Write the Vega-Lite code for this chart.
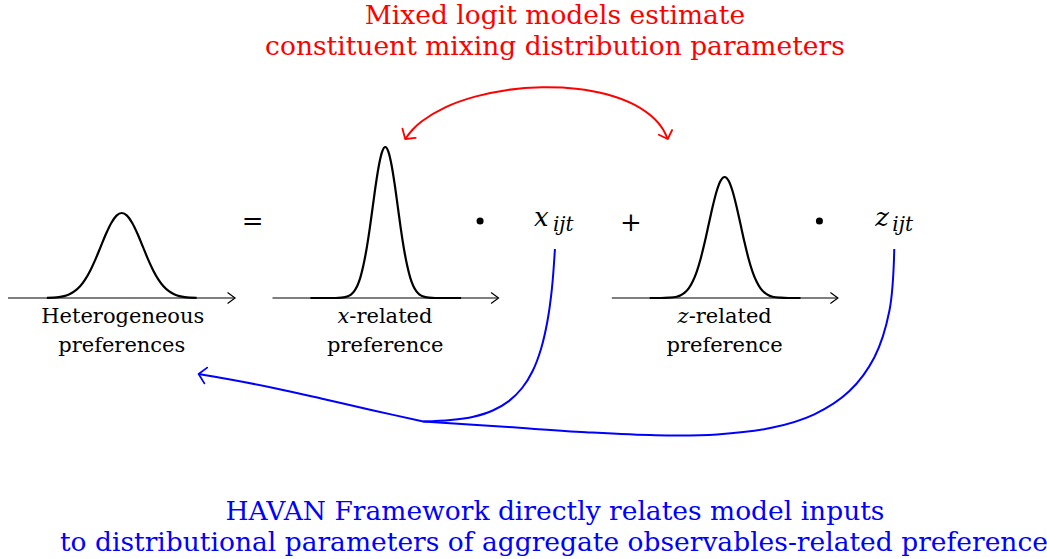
{
"$schema": "https://vega.github.io/schema/vega-lite/v6.json",
"width": 1047, "height": 559,
"autosize": {"type": "fit", "contains": "padding"},
"padding": 0,
"background": "white",
"config": {"view": {"stroke": null}},
"datasets": {
"lines": [
{"k":"axis","id":"a1","i":0,"x":8,"y":298},{"k":"axis","id":"a1","i":1,"x":235,"y":298},
{"k":"axis","id":"a2","i":0,"x":273,"y":298},{"k":"axis","id":"a2","i":1,"x":499,"y":298},
{"k":"axis","id":"a3","i":0,"x":613,"y":298},{"k":"axis","id":"a3","i":1,"x":839,"y":298},
{"k":"axis","id":"h1","i":0,"x":228,"y":292.5},{"k":"axis","id":"h1","i":1,"x":235.5,"y":298},{"k":"axis","id":"h1","i":2,"x":228,"y":303.5},
{"k":"axis","id":"h2","i":0,"x":492,"y":292.5},{"k":"axis","id":"h2","i":1,"x":499.5,"y":298},{"k":"axis","id":"h2","i":2,"x":492,"y":303.5},
{"k":"axis","id":"h3","i":0,"x":832,"y":292.5},{"k":"axis","id":"h3","i":1,"x":839.5,"y":298},{"k":"axis","id":"h3","i":2,"x":832,"y":303.5},
{"k":"gauss","id":"g1","i":0,"x":47,"y":297.85},{"k":"gauss","id":"g1","i":1,"x":59,"y":297.1},{"k":"gauss","id":"g1","i":2,"x":64.25,"y":296.1},{"k":"gauss","id":"g1","i":3,"x":69.5,"y":294.3},{"k":"gauss","id":"g1","i":4,"x":74.75,"y":291.2},{"k":"gauss","id":"g1","i":5,"x":80,"y":286.5},{"k":"gauss","id":"g1","i":6,"x":85.25,"y":279.6},{"k":"gauss","id":"g1","i":7,"x":90.5,"y":270.4},{"k":"gauss","id":"g1","i":8,"x":95.75,"y":259.1},{"k":"gauss","id":"g1","i":9,"x":101,"y":246.4},{"k":"gauss","id":"g1","i":10,"x":106.25,"y":233.8},{"k":"gauss","id":"g1","i":11,"x":111.5,"y":223.0},{"k":"gauss","id":"g1","i":12,"x":116.75,"y":215.6},{"k":"gauss","id":"g1","i":13,"x":122,"y":213},{"k":"gauss","id":"g1","i":14,"x":127.25,"y":215.6},{"k":"gauss","id":"g1","i":15,"x":132.5,"y":223.0},{"k":"gauss","id":"g1","i":16,"x":137.75,"y":233.8},{"k":"gauss","id":"g1","i":17,"x":143,"y":246.4},{"k":"gauss","id":"g1","i":18,"x":148.25,"y":259.1},{"k":"gauss","id":"g1","i":19,"x":153.5,"y":270.4},{"k":"gauss","id":"g1","i":20,"x":158.75,"y":279.6},{"k":"gauss","id":"g1","i":21,"x":164,"y":286.5},{"k":"gauss","id":"g1","i":22,"x":169.25,"y":291.2},{"k":"gauss","id":"g1","i":23,"x":174.5,"y":294.3},{"k":"gauss","id":"g1","i":24,"x":179.75,"y":296.1},{"k":"gauss","id":"g1","i":25,"x":185,"y":297.1},{"k":"gauss","id":"g1","i":26,"x":197,"y":297.85},
{"k":"gauss","id":"g2","i":0,"x":311,"y":298},{"k":"gauss","id":"g2","i":1,"x":336,"y":298},{"k":"gauss","id":"g2","i":2,"x":342.25,"y":297.7},{"k":"gauss","id":"g2","i":3,"x":348.5,"y":296.3},{"k":"gauss","id":"g2","i":4,"x":351.6,"y":294.6},{"k":"gauss","id":"g2","i":5,"x":354.75,"y":291.4},{"k":"gauss","id":"g2","i":6,"x":357.9,"y":286.0},{"k":"gauss","id":"g2","i":7,"x":361,"y":277.6},{"k":"gauss","id":"g2","i":8,"x":364.1,"y":265.3},{"k":"gauss","id":"g2","i":9,"x":367.25,"y":249.0},{"k":"gauss","id":"g2","i":10,"x":370.4,"y":228.9},{"k":"gauss","id":"g2","i":11,"x":373.5,"y":206.4},{"k":"gauss","id":"g2","i":12,"x":376.6,"y":184.0},{"k":"gauss","id":"g2","i":13,"x":379.75,"y":164.7},{"k":"gauss","id":"g2","i":14,"x":382.9,"y":151.6},{"k":"gauss","id":"g2","i":15,"x":386,"y":147},{"k":"gauss","id":"g2","i":16,"x":389.1,"y":151.6},{"k":"gauss","id":"g2","i":17,"x":392.25,"y":164.7},{"k":"gauss","id":"g2","i":18,"x":395.4,"y":184.0},{"k":"gauss","id":"g2","i":19,"x":398.5,"y":206.4},{"k":"gauss","id":"g2","i":20,"x":401.6,"y":228.9},{"k":"gauss","id":"g2","i":21,"x":404.75,"y":249.0},{"k":"gauss","id":"g2","i":22,"x":407.9,"y":265.3},{"k":"gauss","id":"g2","i":23,"x":411,"y":277.6},{"k":"gauss","id":"g2","i":24,"x":414.1,"y":286.0},{"k":"gauss","id":"g2","i":25,"x":417.25,"y":291.4},{"k":"gauss","id":"g2","i":26,"x":420.4,"y":294.6},{"k":"gauss","id":"g2","i":27,"x":423.5,"y":296.3},{"k":"gauss","id":"g2","i":28,"x":429.75,"y":297.7},{"k":"gauss","id":"g2","i":29,"x":436,"y":298},{"k":"gauss","id":"g2","i":30,"x":462,"y":298},
{"k":"gauss","id":"g3","i":0,"x":651,"y":298},{"k":"gauss","id":"g3","i":1,"x":662,"y":298},{"k":"gauss","id":"g3","i":2,"x":670,"y":297.7},{"k":"gauss","id":"g3","i":3,"x":678,"y":296.7},{"k":"gauss","id":"g3","i":4,"x":682,"y":295.2},{"k":"gauss","id":"g3","i":5,"x":686,"y":292.7},{"k":"gauss","id":"g3","i":6,"x":690,"y":288.4},{"k":"gauss","id":"g3","i":7,"x":694,"y":281.6},{"k":"gauss","id":"g3","i":8,"x":698,"y":271.8},{"k":"gauss","id":"g3","i":9,"x":702,"y":258.7},{"k":"gauss","id":"g3","i":10,"x":706,"y":242.6},{"k":"gauss","id":"g3","i":11,"x":710,"y":224.6},{"k":"gauss","id":"g3","i":12,"x":714,"y":206.7},{"k":"gauss","id":"g3","i":13,"x":718,"y":191.2},{"k":"gauss","id":"g3","i":14,"x":722,"y":180.7},{"k":"gauss","id":"g3","i":15,"x":726,"y":177},{"k":"gauss","id":"g3","i":16,"x":730,"y":180.7},{"k":"gauss","id":"g3","i":17,"x":734,"y":191.2},{"k":"gauss","id":"g3","i":18,"x":738,"y":206.7},{"k":"gauss","id":"g3","i":19,"x":742,"y":224.6},{"k":"gauss","id":"g3","i":20,"x":746,"y":242.6},{"k":"gauss","id":"g3","i":21,"x":750,"y":258.7},{"k":"gauss","id":"g3","i":22,"x":754,"y":271.8},{"k":"gauss","id":"g3","i":23,"x":758,"y":281.6},{"k":"gauss","id":"g3","i":24,"x":762,"y":288.4},{"k":"gauss","id":"g3","i":25,"x":766,"y":292.7},{"k":"gauss","id":"g3","i":26,"x":770,"y":295.2},{"k":"gauss","id":"g3","i":27,"x":774,"y":296.7},{"k":"gauss","id":"g3","i":28,"x":782,"y":297.7},{"k":"gauss","id":"g3","i":29,"x":790,"y":298},{"k":"gauss","id":"g3","i":30,"x":802,"y":298},
{"k":"red","id":"r1","i":0,"x":406,"y":139},{"k":"red","id":"r1","i":1,"x":413.3,"y":129.7},{"k":"red","id":"r1","i":2,"x":422.7,"y":121.2},{"k":"red","id":"r1","i":3,"x":446.6,"y":107.1},{"k":"red","id":"r1","i":4,"x":476,"y":96.6},{"k":"red","id":"r1","i":5,"x":508.8,"y":89.9},{"k":"red","id":"r1","i":6,"x":543.1,"y":87.3},{"k":"red","id":"r1","i":7,"x":577,"y":88.7},{"k":"red","id":"r1","i":8,"x":608.6,"y":94.5},{"k":"red","id":"r1","i":9,"x":635.5,"y":104.7},{"k":"red","id":"r1","i":10,"x":656.4,"y":119.4},{"k":"red","id":"r1","i":11,"x":663.9,"y":128.7},{"k":"red","id":"r1","i":12,"x":669,"y":139},
{"k":"redhead","id":"rh1","i":0,"x":403.2,"y":128.6},{"k":"redhead","id":"rh1","i":1,"x":406,"y":139},{"k":"redhead","id":"rh1","i":2,"x":416.5,"y":137.8},
{"k":"redhead","id":"rh2","i":0,"x":660.1,"y":134.7},{"k":"redhead","id":"rh2","i":1,"x":669,"y":139},{"k":"redhead","id":"rh2","i":2,"x":673.4,"y":130},
{"k":"blue","id":"bA","i":0,"x":556,"y":249},{"k":"blue","id":"bA","i":1,"x":552.95,"y":288.8},{"k":"blue","id":"bA","i":2,"x":548.4,"y":321.5},{"k":"blue","id":"bA","i":3,"x":542.1,"y":348.7},{"k":"blue","id":"bA","i":4,"x":533.8,"y":370.7},{"k":"blue","id":"bA","i":5,"x":523.1,"y":388},{"k":"blue","id":"bA","i":6,"x":509.8,"y":401.1},{"k":"blue","id":"bA","i":7,"x":493.7,"y":410.5},{"k":"blue","id":"bA","i":8,"x":474.3,"y":416.7},{"k":"blue","id":"bA","i":9,"x":451.5,"y":420},{"k":"blue","id":"bA","i":10,"x":424,"y":421.5},
{"k":"blue","id":"bL","i":0,"x":424,"y":421.5},{"k":"blue","id":"bL","i":1,"x":373,"y":410.2},{"k":"blue","id":"bL","i":2,"x":325,"y":399.2},{"k":"blue","id":"bL","i":3,"x":276.6,"y":388.4},{"k":"blue","id":"bL","i":4,"x":228,"y":379},{"k":"blue","id":"bL","i":5,"x":199,"y":374},
{"k":"blue","id":"bB","i":0,"x":896,"y":249},{"k":"blue","id":"bB","i":1,"x":891.2,"y":310.3},{"k":"blue","id":"bB","i":2,"x":876.1,"y":357.2},{"k":"blue","id":"bB","i":3,"x":850.8,"y":391.3},{"k":"blue","id":"bB","i":4,"x":815.9,"y":414.3},{"k":"blue","id":"bB","i":5,"x":771.8,"y":428.1},{"k":"blue","id":"bB","i":6,"x":718.5,"y":434.4},{"k":"blue","id":"bB","i":7,"x":656.8,"y":435.2},{"k":"blue","id":"bB","i":8,"x":587,"y":432.2},{"k":"blue","id":"bB","i":9,"x":509.2,"y":427.1},{"k":"blue","id":"bB","i":10,"x":424,"y":421.5},
{"k":"bluehead","id":"bh1","i":0,"x":207.6,"y":367.6},{"k":"bluehead","id":"bh1","i":1,"x":199,"y":374},{"k":"bluehead","id":"bh1","i":2,"x":204.8,"y":383.4}
],
"texts": [
{"r":"title","x":556,"y":24,"t":"Mixed logit models estimate"},
{"r":"title","x":556,"y":55,"t":"constituent mixing distribution parameters"},
{"r":"bottom","x":556,"y":519.5,"t":"HAVAN Framework directly relates model inputs"},
{"r":"bottom","x":555,"y":550.5,"t":"to distributional parameters of aggregate observables-related preference"},
{"r":"label","x":123,"y":323,"t":"Heterogeneous"},
{"r":"label","x":122,"y":352,"t":"preferences"},
{"r":"label","x":386,"y":352,"t":"preference"},
{"r":"label","x":726,"y":352,"t":"preference"},
{"r":"labelL","x":350,"y":323,"t":"-related"},
{"r":"labelL","x":690,"y":323,"t":"-related"},
{"r":"labelI","x":350,"y":323,"t":"x"},
{"r":"labelI","x":690,"y":323,"t":"z"},
{"r":"math","x":535,"y":226,"t":"x"},
{"r":"math","x":877,"y":226,"t":"z"},
{"r":"sub","x":554,"y":231,"t":"ijt"},
{"r":"sub","x":894,"y":231,"t":"ijt"},
{"r":"op","x":253,"y":222,"t":"="},
{"r":"op","x":632,"y":223,"t":"+"}
],
"dots": [{"x":481,"y":221},{"x":821,"y":221}]
},
"layer": [
{"data":{"name":"lines"},"transform":[{"filter":"datum.k === 'axis'"}],
 "mark":{"type":"line","color":"black","strokeWidth":1.2},
 "encoding":{"x":{"field":"x","type":"quantitative","scale":{"domain":[0,1047],"nice":false,"zero":false},"axis":null},
  "y":{"field":"y","type":"quantitative","scale":{"domain":[0,559],"nice":false,"zero":false,"reverse":true},"axis":null},
  "detail":{"field":"id"},"order":{"field":"i","type":"quantitative"}}},
{"data":{"name":"lines"},"transform":[{"filter":"datum.k === 'gauss'"}],
 "mark":{"type":"line","color":"black","strokeWidth":2.2,"interpolate":"monotone"},
 "encoding":{"x":{"field":"x","type":"quantitative","scale":{"domain":[0,1047],"nice":false,"zero":false},"axis":null},
  "y":{"field":"y","type":"quantitative","scale":{"domain":[0,559],"nice":false,"zero":false,"reverse":true},"axis":null},
  "detail":{"field":"id"},"order":{"field":"i","type":"quantitative"}}},
{"data":{"name":"lines"},"transform":[{"filter":"datum.k === 'red'"}],
 "mark":{"type":"line","color":"#ff0000","strokeWidth":2,"interpolate":"catmull-rom"},
 "encoding":{"x":{"field":"x","type":"quantitative","scale":{"domain":[0,1047],"nice":false,"zero":false},"axis":null},
  "y":{"field":"y","type":"quantitative","scale":{"domain":[0,559],"nice":false,"zero":false,"reverse":true},"axis":null},
  "detail":{"field":"id"},"order":{"field":"i","type":"quantitative"}}},
{"data":{"name":"lines"},"transform":[{"filter":"datum.k === 'redhead'"}],
 "mark":{"type":"line","color":"#ff0000","strokeWidth":1.8,"strokeCap":"round","strokeJoin":"round"},
 "encoding":{"x":{"field":"x","type":"quantitative","scale":{"domain":[0,1047],"nice":false,"zero":false},"axis":null},
  "y":{"field":"y","type":"quantitative","scale":{"domain":[0,559],"nice":false,"zero":false,"reverse":true},"axis":null},
  "detail":{"field":"id"},"order":{"field":"i","type":"quantitative"}}},
{"data":{"name":"lines"},"transform":[{"filter":"datum.k === 'blue'"}],
 "mark":{"type":"line","color":"#0000ff","strokeWidth":2,"interpolate":"catmull-rom"},
 "encoding":{"x":{"field":"x","type":"quantitative","scale":{"domain":[0,1047],"nice":false,"zero":false},"axis":null},
  "y":{"field":"y","type":"quantitative","scale":{"domain":[0,559],"nice":false,"zero":false,"reverse":true},"axis":null},
  "detail":{"field":"id"},"order":{"field":"i","type":"quantitative"}}},
{"data":{"name":"lines"},"transform":[{"filter":"datum.k === 'bluehead'"}],
 "mark":{"type":"line","color":"#0000ff","strokeWidth":1.8,"strokeCap":"round","strokeJoin":"round"},
 "encoding":{"x":{"field":"x","type":"quantitative","scale":{"domain":[0,1047],"nice":false,"zero":false},"axis":null},
  "y":{"field":"y","type":"quantitative","scale":{"domain":[0,559],"nice":false,"zero":false,"reverse":true},"axis":null},
  "detail":{"field":"id"},"order":{"field":"i","type":"quantitative"}}},
{"data":{"name":"dots"},
 "mark":{"type":"point","filled":true,"color":"black","size":50,"opacity":1},
 "encoding":{"x":{"field":"x","type":"quantitative","scale":{"domain":[0,1047],"nice":false,"zero":false},"axis":null},
  "y":{"field":"y","type":"quantitative","scale":{"domain":[0,559],"nice":false,"zero":false,"reverse":true},"axis":null}}},
{"data":{"name":"texts"},"transform":[{"filter":"datum.r === 'title'"}],
 "mark":{"type":"text","font":"DejaVu Serif","fontSize":26.5,"color":"#ff0000","align":"center","baseline":"alphabetic"},
 "encoding":{"x":{"field":"x","type":"quantitative","scale":{"domain":[0,1047],"nice":false,"zero":false},"axis":null},
  "y":{"field":"y","type":"quantitative","scale":{"domain":[0,559],"nice":false,"zero":false,"reverse":true},"axis":null},
  "text":{"field":"t"}}},
{"data":{"name":"texts"},"transform":[{"filter":"datum.r === 'bottom'"}],
 "mark":{"type":"text","font":"DejaVu Serif","fontSize":26.5,"color":"#0000ff","align":"center","baseline":"alphabetic"},
 "encoding":{"x":{"field":"x","type":"quantitative","scale":{"domain":[0,1047],"nice":false,"zero":false},"axis":null},
  "y":{"field":"y","type":"quantitative","scale":{"domain":[0,559],"nice":false,"zero":false,"reverse":true},"axis":null},
  "text":{"field":"t"}}},
{"data":{"name":"texts"},"transform":[{"filter":"datum.r === 'label'"}],
 "mark":{"type":"text","font":"DejaVu Serif","fontSize":21,"color":"black","align":"center","baseline":"alphabetic"},
 "encoding":{"x":{"field":"x","type":"quantitative","scale":{"domain":[0,1047],"nice":false,"zero":false},"axis":null},
  "y":{"field":"y","type":"quantitative","scale":{"domain":[0,559],"nice":false,"zero":false,"reverse":true},"axis":null},
  "text":{"field":"t"}}},
{"data":{"name":"texts"},"transform":[{"filter":"datum.r === 'labelL'"}],
 "mark":{"type":"text","font":"DejaVu Serif","fontSize":21,"color":"black","align":"left","baseline":"alphabetic"},
 "encoding":{"x":{"field":"x","type":"quantitative","scale":{"domain":[0,1047],"nice":false,"zero":false},"axis":null},
  "y":{"field":"y","type":"quantitative","scale":{"domain":[0,559],"nice":false,"zero":false,"reverse":true},"axis":null},
  "text":{"field":"t"}}},
{"data":{"name":"texts"},"transform":[{"filter":"datum.r === 'labelI'"}],
 "mark":{"type":"text","font":"DejaVu Serif","fontStyle":"italic","fontSize":21,"color":"black","align":"right","baseline":"alphabetic"},
 "encoding":{"x":{"field":"x","type":"quantitative","scale":{"domain":[0,1047],"nice":false,"zero":false},"axis":null},
  "y":{"field":"y","type":"quantitative","scale":{"domain":[0,559],"nice":false,"zero":false,"reverse":true},"axis":null},
  "text":{"field":"t"}}},
{"data":{"name":"texts"},"transform":[{"filter":"datum.r === 'math'"}],
 "mark":{"type":"text","font":"DejaVu Serif","fontStyle":"italic","fontSize":26,"color":"black","align":"left","baseline":"alphabetic"},
 "encoding":{"x":{"field":"x","type":"quantitative","scale":{"domain":[0,1047],"nice":false,"zero":false},"axis":null},
  "y":{"field":"y","type":"quantitative","scale":{"domain":[0,559],"nice":false,"zero":false,"reverse":true},"axis":null},
  "text":{"field":"t"}}},
{"data":{"name":"texts"},"transform":[{"filter":"datum.r === 'sub'"}],
 "mark":{"type":"text","font":"DejaVu Serif","fontStyle":"italic","fontSize":20,"color":"black","align":"left","baseline":"alphabetic"},
 "encoding":{"x":{"field":"x","type":"quantitative","scale":{"domain":[0,1047],"nice":false,"zero":false},"axis":null},
  "y":{"field":"y","type":"quantitative","scale":{"domain":[0,559],"nice":false,"zero":false,"reverse":true},"axis":null},
  "text":{"field":"t"}}},
{"data":{"name":"texts"},"transform":[{"filter":"datum.r === 'op'"}],
 "mark":{"type":"text","font":"DejaVu Serif","fontSize":26,"color":"black","align":"center","baseline":"middle"},
 "encoding":{"x":{"field":"x","type":"quantitative","scale":{"domain":[0,1047],"nice":false,"zero":false},"axis":null},
  "y":{"field":"y","type":"quantitative","scale":{"domain":[0,559],"nice":false,"zero":false,"reverse":true},"axis":null},
  "text":{"field":"t"}}}
]
}
